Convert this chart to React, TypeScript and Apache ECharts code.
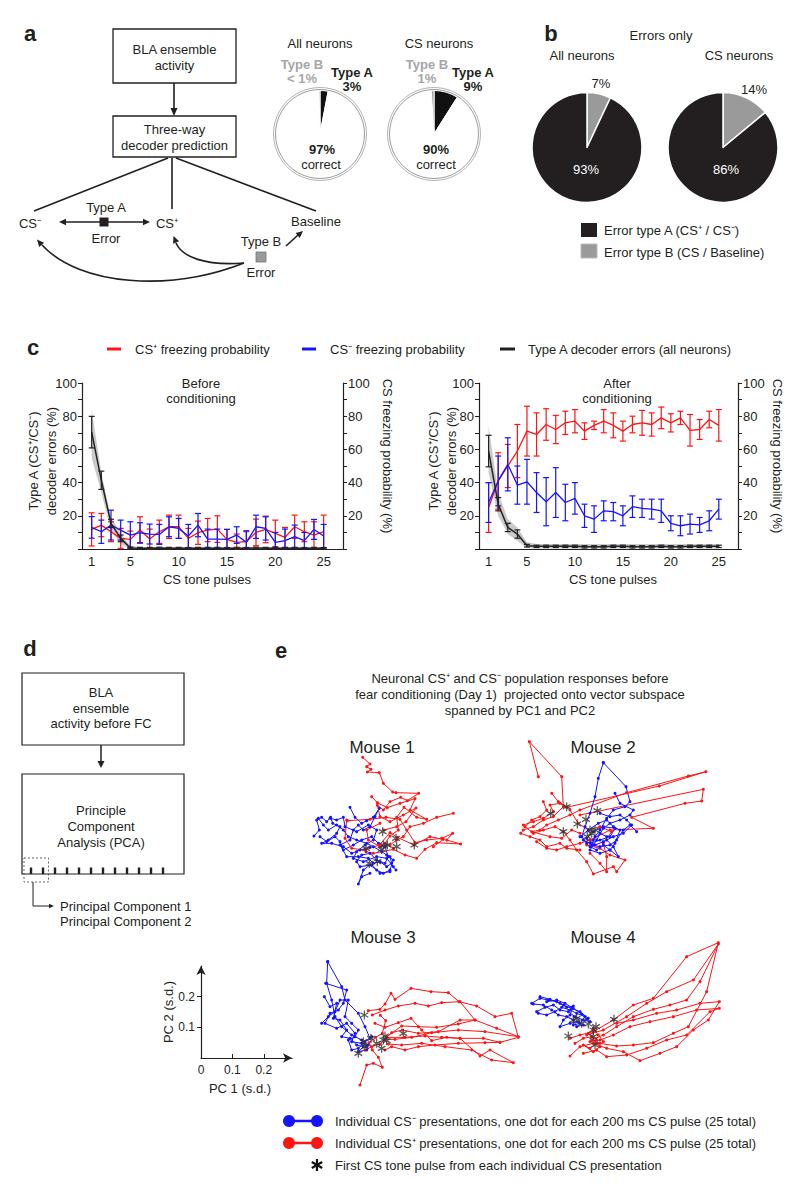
import React, { useEffect, useRef } from "react";
import * as echarts from "echarts";

const FONT = '"Liberation Sans", Arial, Helvetica, sans-serif';
const INK = "#231f20";
const RED = "#ff1414";
const BLUE = "#1414ff";

// ---------- panel a / b data ----------
const allNeuronsPct = [3, 96.6, 0.4]; // Type A, correct, Type B
const csNeuronsPct = [9, 90, 1];
const errAllPct = [7, 93]; // Type B, Type A
const errCsPct = [14, 86];

// ---------- panel c data ----------
const pulses = [1, 2, 3, 4, 5, 6, 7, 8, 9, 10, 11, 12, 13, 14, 15, 16, 17, 18, 19, 20, 21, 22, 23, 24, 25];
const pulseTicks = [1, 5, 10, 15, 20, 25];

const redBefore = [11.8, 14.4, 10.4, 6.4, 5.8, 11.4, 6, 10.4, 13.4, 13.4, 6.4, 9.8, 11.4, 12, 5.8, 4, 4.4, 10, 11.8, 9.4, 7, 13.4, 10.4, 8.4, 10.4];
const redBeforeErr = [10, 7, 6, 6, 5, 8, 6, 7, 7, 7, 6, 7, 7, 8, 6, 5, 6, 8, 8, 8, 6, 7, 6, 8, 10];
const blueBefore = [13, 10.4, 14.4, 11.4, 8.4, 9.8, 9, 8.8, 13.4, 12.4, 7.8, 14.4, 6, 6, 5.8, 8.4, 4, 13.4, 12.4, 4, 5, 7.4, 5, 11.8, 7.8];
const blueBeforeErr = [6.5, 7, 9, 6, 8, 6, 6, 6, 6, 6, 7, 7, 6, 6, 6, 5, 7, 7, 7, 6, 7, 7, 5, 6, 7];
const blackBefore = [70.4, 41.4, 15.4, 6.4, 0.6, 0.5, 0.5, 0.6, 0.5, 0.5, 0.4, 0.5, 0.5, 0.5, 0.4, 0.5, 0.4, 0.6, 0.5, 0.5, 0.4, 0.5, 0.4, 0.5, 0.4];
const blackBeforeErr = [9.5, 5.5, 2.5, 2, 0.6, 0.5, 0.5, 0.5, 0.5, 0.5, 0.5, 0.5, 0.5, 0.5, 0.5, 0.5, 0.5, 0.5, 0.5, 0.5, 0.5, 0.5, 0.5, 0.5, 0.5];
const bandBeforeHi = [84, 46, 19, 9.5, 2, 1.2, 1.2, 1.2, 1.2, 1.2, 1.2, 1.2, 1.2, 1.2, 1.2, 1.2, 1.2, 1.2, 1.2, 1.2, 1.2, 1.2, 1.2, 1.2, 1.2];
const bandBeforeLo = [55, 34, 11, 3, 0, 0, 0, 0, 0, 0, 0, 0, 0, 0, 0, 0, 0, 0, 0, 0, 0, 0, 0, 0, 0];

const redAfter = [25, 41, 50, 59, 71, 69, 75, 72, 76, 77, 71, 74.5, 77, 74.5, 71, 75, 76, 75, 79, 76, 79, 71.5, 72, 78, 74.5];
const redAfterErr = [15, 17, 13, 16, 15, 13, 9.5, 8.5, 7, 7, 5, 2.5, 7, 7.5, 6, 5, 7.5, 7, 6.5, 5.5, 4, 9.5, 6, 5, 9.5];
const blueAfter = [28, 41, 51, 38.5, 40.5, 34, 28.5, 34, 28, 30.5, 20, 18, 23, 22.5, 20, 25.5, 24.5, 24, 23, 15.5, 14, 15, 14.5, 17, 24];
const blueAfterErr = [12, 15, 16, 11.5, 13.5, 12, 14.5, 15, 11, 9.5, 7, 8, 6, 5.5, 6, 6.5, 5.5, 6, 7, 4.5, 6, 6, 4.5, 6, 6];
const blackAfter = [59, 27, 13, 9, 2, 1.6, 1.6, 1.6, 1.6, 1.6, 1.3, 1.3, 1.3, 1.6, 1.6, 1.3, 1.3, 1.3, 1.6, 1.3, 1.3, 1.6, 1.6, 1.6, 1.6];
const blackAfterErr = [9.5, 4, 2.5, 2.5, 0.8, 0.7, 0.7, 0.7, 0.7, 0.7, 0.7, 0.7, 0.7, 0.7, 0.7, 0.7, 0.7, 0.7, 0.7, 0.7, 0.7, 0.7, 0.7, 0.7, 0.7];
const bandAfterHi = [74, 34, 18, 13, 4, 3, 3, 3, 3, 3, 3, 3, 3, 3, 3, 3, 3, 3, 3, 3, 3, 3, 3, 3, 3];
const bandAfterLo = [46, 20, 9, 5, 0.5, 0.3, 0.3, 0.3, 0.3, 0.3, 0.3, 0.3, 0.3, 0.3, 0.3, 0.3, 0.3, 0.3, 0.3, 0.3, 0.3, 0.3, 0.3, 0.3, 0.3];

// ---------- panel e data (PC projections, arbitrary units) ----------
const m1Minus = [
  [[72, 318], [88, 300], [80, 270], [95, 262], [110, 275], [122, 262], [128, 280], [150, 290], [140, 310], [115, 330], [95, 340], [125, 340], [160, 350], [185, 370], [210, 360], [240, 352]],
  [[180, 232], [195, 262], [215, 280], [230, 272], [250, 262], [268, 235], [255, 260], [240, 290], [220, 300], [205, 285], [190, 300], [180, 330], [150, 345], [170, 380], [205, 380], [235, 385], [250, 400], [270, 395], [290, 410], [305, 400], [300, 380]],
  [[85, 265], [100, 285], [115, 300], [140, 285], [160, 300], [175, 320], [200, 330], [230, 340], [250, 350], [275, 365], [290, 375], [310, 390], [300, 420], [280, 430], [260, 420], [240, 405], [220, 420], [205, 462], [215, 440], [240, 430]],
  [[90, 320], [110, 335], [135, 320], [150, 335], [160, 360], [190, 345], [215, 330], [245, 320], [265, 340], [285, 350], [295, 380], [285, 400], [260, 390], [240, 370], [215, 375], [200, 395], [210, 410], [245, 405], [270, 430], [300, 425]],
  [[120, 265], [140, 270], [160, 262], [165, 290], [200, 305], [235, 285], [260, 300], [250, 330], [225, 345], [200, 365], [190, 385], [220, 395], [260, 380], [290, 385], [310, 410], [318, 420]],
];
const m1Plus = [
  [[218, 82], [240, 102], [230, 110], [243, 118], [232, 126], [268, 128], [280, 160], [308, 186], [318, 188], [386, 190], [352, 212], [332, 202], [300, 215], [280, 240], [262, 226], [270, 260], [300, 275], [340, 255], [378, 234], [348, 275], [320, 290], [282, 300]],
  [[245, 200], [262, 218], [292, 233], [330, 220], [375, 206], [360, 240], [410, 268], [380, 262], [342, 232], [320, 262], [325, 300], [300, 318], [285, 340], [310, 355]],
  [[172, 272], [240, 268], [288, 262], [330, 268], [350, 300], [375, 338], [410, 330], [455, 325], [488, 310], [470, 330], [512, 342], [440, 338], [405, 358], [380, 385], [345, 375], [310, 358], [250, 370], [228, 365]],
  [[490, 250], [440, 262], [400, 280], [360, 290], [340, 320], [320, 330], [300, 345], [270, 350], [235, 330], [230, 300], [270, 280]],
  [[170, 270], [165, 325], [185, 355], [225, 360], [268, 345], [300, 308], [322, 322], [372, 345], [420, 320], [460, 328], [430, 350]],
];
const m1Stars = [[278, 305], [318, 325], [280, 345], [292, 345], [320, 350], [228, 355], [275, 358], [373, 345], [238, 400], [262, 395]];

const m2Plus = [
  [[115, 140], [88, 35], [185, 140], [190, 230], [160, 260], [130, 270], [100, 290], [70, 300], [62, 310], [90, 320], [120, 330], [140, 350], [180, 340], [200, 355], [240, 360]],
  [[155, 190], [175, 215], [200, 232], [478, 168], [618, 125], [565, 138], [380, 188], [240, 240], [210, 255], [175, 270], [140, 285], [120, 300], [95, 305], [150, 320], [185, 325], [215, 300], [240, 310]],
  [[130, 215], [140, 240], [120, 260], [95, 270], [75, 290], [100, 310], [130, 300], [165, 290], [190, 305], [210, 330], [230, 360], [260, 395], [280, 432], [340, 410], [350, 425], [375, 390], [330, 375], [300, 355], [260, 345]],
  [[240, 255], [610, 178], [605, 213], [555, 220], [395, 262], [460, 295], [330, 300], [270, 330], [240, 340], [200, 350], [170, 360], [140, 355], [110, 335]],
  [[70, 285], [100, 275], [130, 265], [160, 245], [150, 225], [180, 220], [210, 240], [235, 280], [265, 300], [300, 290], [335, 305], [310, 340], [320, 380], [320, 425], [300, 400], [270, 370]],
];
const m2Minus = [
  [[310, 98], [295, 145], [285, 200], [270, 250], [255, 290], [245, 320], [260, 340], [280, 330], [300, 310], [320, 320]],
  [[310, 98], [378, 170], [390, 215], [375, 230], [340, 240], [320, 265], [300, 300], [285, 320], [275, 345], [300, 350], [330, 345], [350, 330], [370, 300], [390, 285], [410, 305]],
  [[345, 190], [360, 220], [400, 240], [390, 255], [360, 270], [330, 280], [310, 295], [290, 330], [270, 360], [300, 370], [330, 360], [355, 380], [340, 350], [320, 330]],
  [[300, 250], [330, 260], [360, 255], [380, 270], [395, 285], [370, 310], [340, 320], [310, 335], [285, 345], [260, 325], [280, 305], [310, 290], [345, 295], [330, 320], [300, 330], [270, 340], [250, 330]],
  [[240, 320], [265, 300], [295, 280], [320, 270], [340, 290], [360, 300], [345, 340], [330, 360], [310, 345], [290, 360], [270, 350]],
];
const m2Stars = [[152, 250], [200, 230], [190, 305], [232, 282], [258, 268], [292, 242], [270, 300], [285, 300], [262, 320], [275, 310]];

const m3Minus = [
  [[128, 35], [170, 110], [180, 150], [220, 190], [240, 230], [255, 265]],
  [[128, 35], [125, 100], [140, 150], [150, 200], [170, 230], [200, 255], [230, 270], [245, 290]],
  [[122, 100], [185, 120], [175, 160], [160, 180], [135, 190], [120, 220], [155, 235], [185, 220], [210, 250], [200, 275], [230, 280], [250, 285]],
  [[110, 220], [130, 200], [150, 185], [165, 150], [190, 150], [180, 200], [200, 220], [220, 240], [210, 260], [190, 270], [200, 300], [220, 295], [240, 275], [260, 260]],
  [[118, 140], [135, 170], [155, 160], [145, 205], [165, 210], [185, 240], [170, 260], [195, 265], [215, 285], [235, 290], [220, 305], [245, 300]],
];
const m3Plus = [
  [[250, 182], [285, 178], [300, 162], [318, 130], [330, 148], [378, 115], [438, 125], [490, 128], [522, 155], [575, 168], [630, 200], [680, 190], [700, 262], [645, 277], [595, 265], [525, 265], [470, 262], [420, 258], [360, 262], [305, 262]],
  [[262, 195], [300, 180], [340, 168], [390, 160], [430, 168], [470, 158], [525, 155], [570, 210], [635, 235], [700, 260], [600, 245], [520, 240], [440, 248], [380, 262], [330, 268], [300, 268]],
  [[270, 220], [300, 232], [340, 218], [378, 205], [410, 240], [440, 272], [485, 262], [525, 265], [585, 318], [615, 300], [685, 338], [620, 330], [560, 300], [480, 290], [410, 280], [350, 285], [310, 282]],
  [[240, 300], [260, 290], [285, 282], [320, 248], [352, 240], [400, 250], [460, 245], [525, 210], [570, 210], [520, 222], [455, 232], [400, 230], [350, 228], [305, 260]],
  [[225, 405], [245, 345], [265, 340], [292, 352], [280, 322], [262, 300], [252, 278], [272, 262], [292, 250], [302, 212], [286, 196]],
  [[300, 300], [320, 290], [360, 300], [400, 290], [450, 285], [520, 280], [600, 278], [645, 277]],
];
const m3Stars = [[238, 195], [220, 310], [235, 275], [240, 290], [258, 265], [275, 280], [295, 270], [300, 258], [305, 272], [290, 295], [355, 250]];

const m4Minus = [
  [[215, 250], [240, 235], [265, 240], [290, 245], [310, 255], [335, 265], [360, 275], [385, 295]],
  [[230, 275], [255, 262], [280, 255], [300, 270], [325, 275], [345, 290], [370, 300], [390, 305]],
  [[240, 230], [270, 238], [300, 250], [320, 262], [340, 258], [330, 285], [310, 300], [300, 320], [330, 310], [355, 305]],
  [[220, 252], [250, 255], [275, 270], [295, 285], [320, 290], [340, 300], [350, 320], [370, 315]],
  [[235, 280], [260, 285], [285, 275], [305, 262], [330, 270], [350, 280], [375, 290], [360, 310], [340, 315]],
  [[260, 245], [290, 240], [315, 250], [340, 265], [365, 282], [380, 298]],
];
const m4Plus = [
  [[330, 355], [360, 345], [400, 335], [460, 300], [520, 255], [580, 235], [680, 110], [775, 68], [740, 215], [685, 320], [640, 340], [580, 368], [520, 375], [470, 378], [420, 370]],
  [[380, 345], [430, 330], [500, 290], [560, 250], [620, 215], [700, 180], [775, 72], [720, 185], [680, 240], [630, 255], [580, 268], [520, 290], [470, 320], [430, 345], [395, 360]],
  [[330, 408], [360, 380], [400, 370], [440, 385], [490, 395], [540, 422], [600, 400], [650, 380], [700, 330], [745, 300], [778, 245], [720, 250], [650, 270], [590, 280], [520, 300], [470, 310]],
  [[370, 400], [410, 390], [440, 410], [500, 405], [560, 385], [620, 360], [680, 345], [750, 275], [778, 265], [710, 270], [640, 290], [570, 305], [510, 320], [460, 345], [420, 360], [390, 365]],
  [[345, 370], [370, 355], [395, 350], [410, 370], [390, 385], [370, 375], [400, 395], [420, 380], [410, 360], [385, 340], [400, 325], [415, 345], [430, 365]],
];
const m4Stars = [[325, 348], [340, 300], [350, 295], [365, 310], [385, 312], [400, 330], [408, 320], [400, 350], [405, 375], [462, 298]];

const pcTicks = [0.1, 0.2];
const pcXLabels = [0, 0.1, 0.2];

const STAR =
  "path://M-0.7,-5L0.7,-5L0.7,5L-0.7,5ZM3.98,-3.11L4.68,-1.89L-3.98,3.11L-4.68,1.89ZM-4.68,-1.89L-3.98,-3.11L4.68,1.89L3.98,3.11Z";

// ---------- helpers ----------
function txt(x: number, y: number, text: string, o: any = {}) {
  const size = o.size || 13;
  return {
    type: "text",
    x,
    y,
    rotation: o.rot || 0,
    silent: true,
    z: 20,
    style: {
      text,
      fontFamily: FONT,
      fontSize: size,
      fontWeight: o.bold ? "bold" : "normal",
      fill: o.color || INK,
      align: o.align || "center",
      verticalAlign: "middle",
      lineHeight: o.lh || Math.round(size * 1.2),
    },
  };
}
function ln(x1: number, y1: number, x2: number, y2: number, w = 1.5, color = INK, dash?: number[]) {
  return { type: "line", silent: true, z: 10, shape: { x1, y1, x2, y2 }, style: { stroke: color, lineWidth: w, lineDash: dash } };
}
function head(tx: number, ty: number, dx: number, dy: number, L = 7, W = 3.2, color = INK) {
  const n = Math.hypot(dx, dy);
  const ux = dx / n, uy = dy / n;
  const bx = tx - ux * L, by = ty - uy * L;
  return {
    type: "polygon",
    silent: true,
    z: 11,
    shape: { points: [[tx, ty], [bx - uy * W, by + ux * W], [bx + uy * W, by - ux * W]] },
    style: { fill: color },
  };
}
function rect(x: number, y: number, w: number, h: number, style: any) {
  return { type: "rect", silent: true, z: 9, shape: { x, y, width: w, height: h }, style };
}

function errSeries(xi: number, yi: number, vals: number[], errs: number[], color: string) {
  return {
    type: "custom",
    xAxisIndex: xi,
    yAxisIndex: yi,
    silent: true,
    z: 4,
    dimensions: ["x", "y", "e"],
    encode: { x: 0, y: 1 },
    data: pulses.map((p, i) => [p, vals[i], errs[i]]),
    renderItem: (params: any, api: any) => {
      const x = api.value(0), y = api.value(1), e = api.value(2);
      const top = api.coord([x, Math.min(100, y + e)]);
      const bot = api.coord([x, Math.max(0, y - e)]);
      const w = 3;
      const st = { stroke: color, lineWidth: 1.2 };
      return {
        type: "group",
        children: [
          { type: "line", shape: { x1: top[0], y1: top[1], x2: bot[0], y2: bot[1] }, style: st },
          { type: "line", shape: { x1: top[0] - w, y1: top[1], x2: top[0] + w, y2: top[1] }, style: st },
          { type: "line", shape: { x1: bot[0] - w, y1: bot[1], x2: bot[0] + w, y2: bot[1] }, style: st },
        ],
      };
    },
  };
}
function bandSeries(xi: number, yi: number, hi: number[], lo: number[]) {
  return {
    type: "custom",
    xAxisIndex: xi,
    yAxisIndex: yi,
    silent: true,
    z: 1,
    data: [[1, 0]],
    renderItem: (params: any, api: any) => {
      const pts: number[][] = [];
      pulses.forEach((p, i) => pts.push(api.coord([p, hi[i]])));
      for (let i = pulses.length - 1; i >= 0; i--) pts.push(api.coord([pulses[i], lo[i]]));
      return { type: "polygon", shape: { points: pts }, style: { fill: "rgba(150,150,150,0.5)" } };
    },
  };
}
function lineSeries(xi: number, yi: number, vals: number[], color: string, w = 1.3, z = 3) {
  return {
    type: "line",
    xAxisIndex: xi,
    yAxisIndex: yi,
    silent: true,
    z,
    symbol: "none",
    data: pulses.map((p, i) => [p, vals[i]]),
    lineStyle: { color, width: w },
  };
}
function trajSeries(list: number[][][], color: string, ai: number) {
  return list.map((d) => ({
    type: "line",
    xAxisIndex: ai,
    yAxisIndex: ai + 2,
    data: d,
    symbol: "circle",
    symbolSize: 3,
    silent: true,
    clip: false,
    z: 3,
    lineStyle: { color, width: 1 },
    itemStyle: { color },
  }));
}
function starSeries(stars: number[][], ai: number) {
  return {
    type: "scatter",
    xAxisIndex: ai,
    yAxisIndex: ai + 2,
    data: stars,
    symbol: STAR,
    symbolSize: 9,
    symbolKeepAspect: true,
    silent: true,
    clip: false,
    z: 6,
    itemStyle: { color: "#333" },
  };
}

const axisTxt = { fontFamily: FONT, fontSize: 13, color: INK };
function pulseX(gi: number) {
  return {
    gridIndex: gi,
    type: "value",
    min: 0,
    max: 27,
    axisLine: { show: true, onZero: false, lineStyle: { color: INK, width: 1.2 } },
    axisTick: { show: false },
    splitLine: { show: false },
    axisLabel: { ...axisTxt, margin: 6, customValues: pulseTicks, formatter: (v: number) => String(v) },
  };
}
function pctY(gi: number, pos: string) {
  return {
    gridIndex: gi,
    type: "value",
    position: pos,
    min: 0,
    max: 100,
    interval: 10,
    axisLine: { show: true, onZero: false, lineStyle: { color: INK, width: 1.2 } },
    axisTick: { show: true, length: 4, lineStyle: { color: INK } },
    splitLine: { show: false },
    axisLabel: { ...axisTxt, margin: 5, formatter: (v: number) => (v > 0 && v % 20 === 0 ? String(v) : "") },
  };
}
function hiddenX(gi: number, max: number) {
  return { gridIndex: gi, type: "value", min: 0, max, show: false, splitLine: { show: false } };
}
function hiddenY(gi: number, max: number) {
  return { gridIndex: gi, type: "value", min: 0, max, inverse: true, show: false, splitLine: { show: false } };
}

function buildOption() {
  const g: any[] = [];
  // ----- panel a -----
  g.push(txt(30, 33, "a", { size: 22, bold: true }));
  g.push(rect(113, 29, 123, 54, { fill: "#fff", stroke: INK, lineWidth: 1.3 }));
  g.push(txt(174.5, 57, "BLA ensemble\nactivity", { lh: 16 }));
  g.push(ln(174, 83, 174, 110, 1.6));
  g.push(head(174, 116, 0, 1, 8, 3.5));
  g.push(rect(113, 116, 123, 41, { fill: "#fff", stroke: INK, lineWidth: 1.3 }));
  g.push(txt(174.5, 137, "Three-way\ndecoder prediction", { lh: 16 }));
  g.push(ln(168, 158, 34, 211, 1.6));
  g.push(ln(172, 158, 172, 209, 1.6));
  g.push(ln(176, 158, 316, 211, 1.6));
  g.push(txt(30, 223, "CS\u207B"));
  g.push(txt(167, 223, "CS\u207A"));
  g.push(txt(316, 221, "Baseline"));
  g.push(ln(64, 222, 145, 222, 1.5));
  g.push(head(59, 222, -1, 0, 7, 3.2));
  g.push(head(150, 222, 1, 0, 7, 3.2));
  g.push(rect(99.5, 217.5, 9, 9, { fill: INK }));
  g.push(txt(106, 207, "Type A"));
  g.push(txt(106, 238, "Error"));
  g.push(txt(261, 241, "Type B"));
  g.push(rect(256, 252, 10, 10, { fill: "#9a9a9a", stroke: "#777", lineWidth: 0.8 }));
  g.push(txt(261, 272, "Error"));
  g.push(ln(286, 246, 298, 235, 1.6));
  g.push(head(303, 231, 1, -0.85, 7, 3.2));
  g.push({ type: "bezierCurve", silent: true, z: 10, shape: { x1: 244, y1: 263, cpx1: 205, cpy1: 266, cpx2: 182, cpy2: 257, x2: 176, y2: 243 }, style: { stroke: INK, lineWidth: 1.6, fill: "none" } });
  g.push(head(173.5, 236, -0.4, -1, 7, 3.2));
  g.push({ type: "bezierCurve", silent: true, z: 10, shape: { x1: 244, y1: 263, cpx1: 170, cpy1: 292, cpx2: 80, cpy2: 286, x2: 42, y2: 245 }, style: { stroke: INK, lineWidth: 1.6, fill: "none" } });
  g.push(head(37, 239.5, -0.7, -0.8, 7, 3.2));

  g.push(txt(320, 43, "All neurons"));
  g.push(txt(439, 43, "CS neurons"));
  [[320, 134], [434, 134]].forEach(([cx, cy]) => {
    g.push({ type: "circle", silent: true, z: 8, shape: { cx, cy, r: 44.5 }, style: { fill: "none", stroke: "#9c9c9c", lineWidth: 1 } });
    g.push({ type: "circle", silent: true, z: 8, shape: { cx, cy, r: 46.5 }, style: { fill: "none", stroke: "#b4b4b4", lineWidth: 1 } });
  });
  g.push(txt(302, 71, "Type B\n< 1%", { bold: true, color: "#a6a6a6", lh: 14 }));
  g.push(txt(352, 79, `Type A\n${allNeuronsPct[0]}%`, { bold: true, lh: 14 }));
  g.push(txt(322, 149, `${100 - allNeuronsPct[0]}%`, { bold: true }));
  g.push(txt(321, 164, "correct"));
  g.push(txt(427, 71, `Type B\n${csNeuronsPct[2]}%`, { bold: true, color: "#a6a6a6", lh: 14 }));
  g.push(txt(473, 79, `Type A\n${csNeuronsPct[0]}%`, { bold: true, lh: 14 }));
  g.push(txt(436, 149, `${csNeuronsPct[1]}%`, { bold: true }));
  g.push(txt(436, 164, "correct"));

  // ----- panel b -----
  g.push(txt(551, 33, "b", { size: 22, bold: true }));
  g.push(txt(661, 35, "Errors only"));
  g.push(txt(582, 55, "All neurons"));
  g.push(txt(739, 55, "CS neurons"));
  g.push(txt(601, 83, `${errAllPct[0]}%`));
  g.push(txt(754, 89, `${errCsPct[0]}%`));
  g.push(txt(586, 169, `${errAllPct[1]}%`, { color: "#fff" }));
  g.push(txt(726, 169, `${errCsPct[1]}%`, { color: "#fff" }));
  g.push(rect(581, 223, 16, 14, { fill: INK }));
  g.push(txt(604, 230, "Error type A (CS\u207A / CS\u207B)", { align: "left" }));
  g.push(rect(581, 244, 16, 14, { fill: "#9a9a9a", stroke: "#bbb", lineWidth: 1 }));
  g.push(txt(604, 252, "Error type B (CS / Baseline)", { align: "left" }));

  // ----- panel c -----
  g.push(txt(33, 347, "c", { size: 22, bold: true }));
  g.push(ln(107, 349, 121, 349, 3, RED));
  g.push(txt(135, 349, "CS\u207A freezing probability", { align: "left" }));
  g.push(ln(302, 349, 316, 349, 3, BLUE));
  g.push(txt(330, 349, "CS\u207B freezing probability", { align: "left" }));
  g.push(ln(500, 349, 515, 349, 3, INK));
  g.push(txt(528, 349, "Type A decoder errors (all neurons)", { align: "left" }));
  g.push(txt(42, 461, "Type A (CS\u207A/CS\u207B)\ndecoder errors (%)", { rot: Math.PI / 2, lh: 18 }));
  g.push(txt(387, 456, "CS freezing probability (%)", { rot: -Math.PI / 2 }));
  g.push(txt(442, 461, "Type A (CS\u207A/CS\u207B)\ndecoder errors (%)", { rot: Math.PI / 2, lh: 18 }));
  g.push(txt(777, 456, "CS freezing probability (%)", { rot: -Math.PI / 2 }));
  g.push(txt(201, 391, "Before\nconditioning", { lh: 15 }));
  g.push(txt(617, 391, "After\nconditioning", { lh: 15 }));
  g.push(txt(207, 579, "CS tone pulses"));
  g.push(txt(613, 579, "CS tone pulses"));

  // ----- panel d -----
  g.push(txt(30, 648, "d", { size: 22, bold: true }));
  g.push(rect(22, 673, 162, 72, { fill: "#fff", stroke: INK, lineWidth: 1.2 }));
  g.push(txt(101, 708, "BLA\nensemble\nactivity before FC", { lh: 15.5 }));
  g.push(ln(101, 745, 101, 762, 1.5));
  g.push(head(101, 768, 0, 1, 7, 3.5));
  g.push(rect(22, 774, 162, 100, { fill: "#fff", stroke: INK, lineWidth: 1.2 }));
  g.push(txt(101, 826, "Principle\nComponent\nAnalysis (PCA)", { lh: 16 }));
  for (let i = 0; i < 12; i++) g.push(rect(31 + i * 12 - 1.2, 867.5, 2.4, 6.5, { fill: INK }));
  g.push(rect(24, 858, 24.5, 24, { fill: "none", stroke: "#555", lineWidth: 0.9, lineDash: [2, 2] }));
  g.push({ type: "polyline", silent: true, z: 10, shape: { points: [[33, 882], [33, 906], [49, 906]] }, style: { stroke: INK, lineWidth: 1, fill: "none" } });
  g.push(head(54, 906, 1, 0, 5, 2.2));
  g.push(txt(60, 906, "Principal Component 1", { align: "left" }));
  g.push(txt(60, 921, "Principal Component 2", { align: "left" }));

  // ----- panel e -----
  g.push(txt(281, 650, "e", { size: 22, bold: true }));
  g.push(
    txt(520, 694, "Neuronal CS\u207A and CS\u207B population responses before\nfear conditioning (Day 1)  projected onto vector subspace\nspanned by PC1 and PC2", { lh: 16 })
  );
  g.push(txt(382, 747, "Mouse 1", { size: 17 }));
  g.push(txt(603, 747, "Mouse 2", { size: 17 }));
  g.push(txt(383, 937, "Mouse 3", { size: 17 }));
  g.push(txt(603, 937, "Mouse 4", { size: 17 }));
  g.push(txt(168, 1012, "PC 2 (s.d.)", { rot: Math.PI / 2 }));
  g.push(txt(240, 1088, "PC 1 (s.d.)"));

  // legend bottom
  g.push(ln(289, 1121, 317, 1121, 2.5, BLUE));
  g.push({ type: "circle", silent: true, z: 12, shape: { cx: 289, cy: 1121, r: 6 }, style: { fill: BLUE } });
  g.push({ type: "circle", silent: true, z: 12, shape: { cx: 317, cy: 1121, r: 6 }, style: { fill: BLUE } });
  g.push(txt(335, 1121, "Individual CS\u207B presentations, one dot for each 200 ms CS pulse (25 total)", { align: "left" }));
  g.push(ln(289, 1143, 317, 1143, 2.5, RED));
  g.push({ type: "circle", silent: true, z: 12, shape: { cx: 289, cy: 1143, r: 6 }, style: { fill: RED } });
  g.push({ type: "circle", silent: true, z: 12, shape: { cx: 317, cy: 1143, r: 6 }, style: { fill: RED } });
  g.push(txt(335, 1143, "Individual CS\u207A presentations, one dot for each 200 ms CS pulse (25 total)", { align: "left" }));
  g.push({
    type: "group",
    x: 317,
    y: 1165,
    silent: true,
    z: 12,
    children: [0, Math.PI / 3, -Math.PI / 3].map((r) => ({ type: "rect", rotation: r, shape: { x: -1.1, y: -6, width: 2.2, height: 12 }, style: { fill: "#111" } })),
  });
  g.push(txt(335, 1165, "First CS tone pulse from each individual CS presentation", { align: "left" }));

  const grids = [
    { left: 82, top: 383, width: 261, height: 166 },
    { left: 479, top: 383, width: 259, height: 166 },
    { left: 290, top: 730, width: 180, height: 160 },
    { left: 500, top: 730, width: 230, height: 160 },
    { left: 285, top: 950, width: 245, height: 140 },
    { left: 460, top: 920, width: 260, height: 170 },
    { left: 201, top: 966, width: 91, height: 92 },
  ].map((gr) => ({ ...gr, containLabel: false, outerBoundsMode: "none" }));

  const xAxis: any[] = [
    pulseX(0),
    pulseX(1),
    hiddenX(2, 540),
    hiddenX(3, 690),
    hiddenX(4, 735),
    hiddenX(5, 780),
    {
      gridIndex: 6,
      type: "value",
      min: 0,
      max: 0.29,
      axisLine: { show: true, onZero: false, symbol: ["none", "arrow"], symbolSize: [7, 9], lineStyle: { color: INK, width: 1.2 } },
      axisTick: { show: true, inside: true, length: 4, customValues: pcTicks, lineStyle: { color: INK } },
      axisLabel: { fontFamily: FONT, fontSize: 12, color: INK, margin: 6, customValues: pcXLabels, formatter: (v: number) => String(v) },
      splitLine: { show: false },
    },
  ];
  const yAxis: any[] = [
    pctY(0, "left"),
    pctY(0, "right"),
    pctY(1, "left"),
    pctY(1, "right"),
    hiddenY(2, 480),
    hiddenY(3, 480),
    hiddenY(4, 420),
    hiddenY(5, 510),
    {
      gridIndex: 6,
      type: "value",
      min: 0,
      max: 0.3,
      axisLine: { show: true, onZero: false, symbol: ["none", "arrow"], symbolSize: [7, 9], lineStyle: { color: INK, width: 1.2 } },
      axisTick: { show: true, length: 4, customValues: pcTicks, lineStyle: { color: INK } },
      axisLabel: { fontFamily: FONT, fontSize: 12, color: INK, margin: 6, customValues: pcTicks, formatter: (v: number) => String(v) },
      splitLine: { show: false },
    },
  ];

  const pieBase = { type: "pie", silent: true, startAngle: 90, clockwise: true, label: { show: false }, labelLine: { show: false }, emphasis: { disabled: true } };
  const series: any[] = [
    {
      ...pieBase,
      center: [320, 134],
      radius: 43.5,
      itemStyle: { borderColor: "#fff", borderWidth: 1 },
      data: [
        { name: "Type A", value: allNeuronsPct[0], itemStyle: { color: "#111" } },
        { name: "Correct", value: allNeuronsPct[1], itemStyle: { color: "#fff" } },
        { name: "Type B", value: allNeuronsPct[2], itemStyle: { color: "#a0a0a0" } },
      ],
    },
    {
      ...pieBase,
      center: [434, 134],
      radius: 43.5,
      itemStyle: { borderColor: "#fff", borderWidth: 1 },
      data: [
        { name: "Type A", value: csNeuronsPct[0], itemStyle: { color: "#111" } },
        { name: "Correct", value: csNeuronsPct[1], itemStyle: { color: "#fff" } },
        { name: "Type B", value: csNeuronsPct[2], itemStyle: { color: "#a0a0a0" } },
      ],
    },
    {
      ...pieBase,
      center: [587, 147.5],
      radius: 55,
      itemStyle: { borderColor: "#fff", borderWidth: 1.5 },
      data: [
        { name: "Type B", value: errAllPct[0], itemStyle: { color: "#9a9a9a" } },
        { name: "Type A", value: errAllPct[1], itemStyle: { color: INK } },
      ],
    },
    {
      ...pieBase,
      center: [723, 147.5],
      radius: 55,
      itemStyle: { borderColor: "#fff", borderWidth: 1.5 },
      data: [
        { name: "Type B", value: errCsPct[0], itemStyle: { color: "#9a9a9a" } },
        { name: "Type A", value: errCsPct[1], itemStyle: { color: INK } },
      ],
    },
    // panel c, before
    bandSeries(0, 0, bandBeforeHi, bandBeforeLo),
    lineSeries(0, 0, redBefore, RED),
    errSeries(0, 0, redBefore, redBeforeErr, RED),
    lineSeries(0, 0, blueBefore, BLUE),
    errSeries(0, 0, blueBefore, blueBeforeErr, BLUE),
    lineSeries(0, 0, blackBefore, "#222", 1.5, 5),
    errSeries(0, 0, blackBefore, blackBeforeErr, "#222"),
    // panel c, after
    bandSeries(1, 2, bandAfterHi, bandAfterLo),
    lineSeries(1, 2, redAfter, RED),
    errSeries(1, 2, redAfter, redAfterErr, RED),
    lineSeries(1, 2, blueAfter, BLUE),
    errSeries(1, 2, blueAfter, blueAfterErr, BLUE),
    lineSeries(1, 2, blackAfter, "#222", 1.5, 5),
    errSeries(1, 2, blackAfter, blackAfterErr, "#222"),
    // panel e
    ...trajSeries(m1Minus, BLUE, 2),
    ...trajSeries(m1Plus, RED, 2),
    starSeries(m1Stars, 2),
    ...trajSeries(m2Plus, RED, 3),
    ...trajSeries(m2Minus, BLUE, 3),
    starSeries(m2Stars, 3),
    ...trajSeries(m3Minus, BLUE, 4),
    ...trajSeries(m3Plus, RED, 4),
    starSeries(m3Stars, 4),
    ...trajSeries(m4Minus, BLUE, 5),
    ...trajSeries(m4Plus, RED, 5),
    starSeries(m4Stars, 5),
  ];

  return {
    animation: false,
    backgroundColor: "#fff",
    textStyle: { fontFamily: FONT },
    grid: grids,
    xAxis,
    yAxis,
    series,
    graphic: { elements: g },
  };
}

export default function App() {
  const ref = useRef<HTMLDivElement>(null);
  useEffect(() => {
    const chart = echarts.init(ref.current!, null, { renderer: "svg", width: 800, height: 1187 });
    chart.setOption(buildOption() as any);
    return () => chart.dispose();
  }, []);
  return <div ref={ref} style={{ position: "absolute", left: 0, top: 0, width: 800, height: 1187, background: "#fff" }} />;
}
